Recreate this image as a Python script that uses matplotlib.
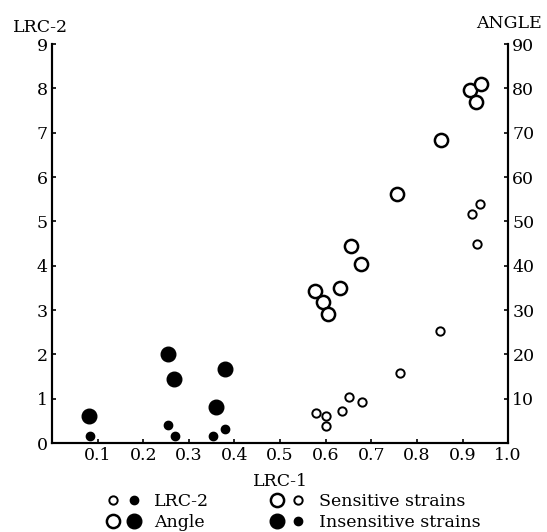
import matplotlib
matplotlib.use('Agg')
import matplotlib.pyplot as plt
from matplotlib.lines import Line2D
from matplotlib.legend_handler import HandlerTuple

plt.rcParams['font.family'] = 'DejaVu Serif'

# sensitive strains
sens_lrc1_angle = [0.576, 0.594, 0.606, 0.631, 0.655, 0.677, 0.757, 0.853, 0.917, 0.940, 0.930]
sens_angle = [34.4, 31.9, 29.1, 35.0, 44.5, 40.4, 56.3, 68.3, 79.6, 80.9, 76.9]
sens_lrc1_lrc2 = [0.579, 0.601, 0.601, 0.636, 0.652, 0.679, 0.763, 0.850, 0.920, 0.938, 0.931]
sens_lrc2 = [0.67, 0.61, 0.38, 0.73, 1.03, 0.93, 1.59, 2.53, 5.17, 5.39, 4.50]

# insensitive strains
ins_lrc1_angle = [0.081, 0.254, 0.267, 0.380, 0.359]
ins_angle = [6.1, 20.2, 14.4, 16.7, 8.2]
ins_lrc1_lrc2 = [0.084, 0.254, 0.270, 0.353, 0.379]
ins_lrc2 = [0.17, 0.41, 0.17, 0.17, 0.32]

xticks = [0.1, 0.2, 0.3, 0.4, 0.5, 0.6, 0.7, 0.8, 0.9, 1.0]
yticks_left = list(range(0, 10))
yticks_right = list(range(10, 100, 10))

fig = plt.figure(figsize=(5.47, 5.32), dpi=100)
ax = fig.add_axes([0.095, 0.167, 0.834, 0.750])
ax2 = ax.twinx()

big = 9.5
small = 6
ax.plot(sens_lrc1_lrc2, sens_lrc2, 'o', ms=small, mfc='white', mec='black', mew=1.4, ls='none')
ax.plot(ins_lrc1_lrc2, ins_lrc2, 'o', ms=small, mfc='black', mec='black', ls='none')
ax2.plot(sens_lrc1_angle, sens_angle, 'o', ms=big, mfc='white', mec='black', mew=1.8, ls='none')
ax2.plot(ins_lrc1_angle, ins_angle, 'o', ms=big + 1, mfc='black', mec='black', ls='none')

ax.set_xlim(0, 1.0)
ax.set_ylim(0, 9)
ax2.set_ylim(0, 90)
ax.set_xticks(xticks)
ax.set_xticklabels(['%.1f' % v for v in xticks])
ax.set_yticks(yticks_left)
ax2.set_yticks(yticks_right)

for a in (ax, ax2):
    a.spines['top'].set_visible(False)
    a.spines['left'].set_linewidth(1.5)
    a.spines['right'].set_linewidth(1.5)
    a.spines['bottom'].set_linewidth(1.5)
    a.tick_params(direction='in', length=3, width=1.2, labelsize=12.5, pad=3)

ax.set_xlabel('LRC-1', fontsize=12.5, labelpad=6)
fig.text(0.075, 0.948, 'LRC-2', fontsize=12.5, ha='center', va='center')
fig.text(0.930, 0.956, 'ANGLE', fontsize=12.5, ha='center', va='center')

def mk(ms, filled, mew):
    return Line2D([], [], marker='o', ls='none', ms=ms, mec='black',
                  mfc='black' if filled else 'white', mew=mew)

handles = [
    (mk(small, False, 1.4), mk(small, True, 1.0)),
    (mk(big, False, 1.8), mk(big + 1, True, 1.0)),
    (mk(big, False, 1.8), mk(small, False, 1.4)),
    (mk(big + 1, True, 1.0), mk(small, True, 1.0)),
]
labels = ['LRC-2', 'Angle', 'Sensitive strains', 'Insensitive strains']
fig.legend(handles, labels, ncol=2, frameon=False, fontsize=12.5,
           handler_map={tuple: HandlerTuple(ndivide=None, pad=0.4)},
           loc='lower center', bbox_to_anchor=(0.536, -0.027),
           handlelength=2.0, handletextpad=0.8, columnspacing=3.5,
           labelspacing=0.22)

fig.savefig('out.png', dpi=100)
